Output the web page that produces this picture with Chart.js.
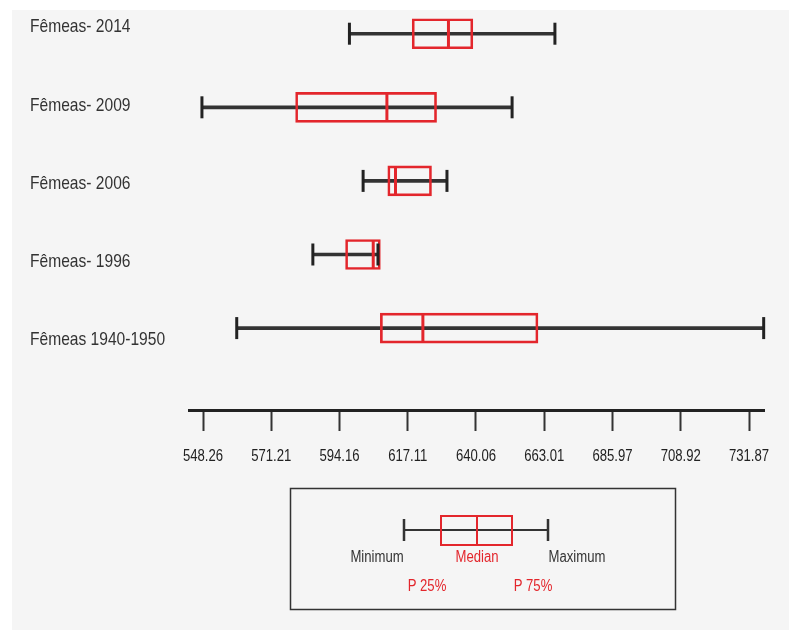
<!DOCTYPE html>
<html><head><meta charset="utf-8">
<script src="https://cdn.jsdelivr.net/npm/chart.js@4.4.1/dist/chart.umd.min.js"></script>
<style>html,body{margin:0;padding:0;background:#fff;}canvas{display:block;}</style>
</head><body>
<canvas id="c" width="789" height="630"></canvas>
<script>
// ---- data (top row first) ----
const categories = ['Fêmeas- 2014', 'Fêmeas- 2009', 'Fêmeas- 2006', 'Fêmeas- 1996', 'Fêmeas 1940-1950'];
const minimum = [597.5, 547.9, 602.1, 585.2, 559.6];
const p25     = [618.6, 579.4, 610.4, 596.2, 607.9];
const median  = [630.8, 610.1, 613.0, 605.5, 622.2];
const p75     = [639.0, 626.8, 625.1, 607.9, 660.9];
const maximum = [666.6, 652.2, 630.3, 607.1, 736.8];
const tickLabels = ['548.26', '571.21', '594.16', '617.11', '640.06', '663.01', '685.97', '708.92', '731.87'];
const legendTexts = { min: 'Minimum', med: 'Median', max: 'Maximum', q1: 'P 25%', q3: 'P 75%' };

const FONT = "'Liberation Sans Narrow','Liberation Sans',Arial,sans-serif";
const NARROW = 0.82; // Arial Narrow ~ Arial condensed horizontally
const RED = '#e3262c';
const DARK = '#333333';
const rows = categories.map((_, i) => i);

function narrowText(c, text, x, y, align, size, color) {
  c.save();
  c.font = size + 'px ' + FONT;
  c.fillStyle = color;
  c.textAlign = align;
  c.textBaseline = 'middle';
  c.translate(x, y);
  c.scale(NARROW, 1);
  c.fillText(text, 0, 0);
  c.restore();
}

const bgPlugin = {
  id: 'bg',
  beforeDraw(chart) {
    const c = chart.ctx;
    c.save();
    c.fillStyle = '#ffffff';
    c.fillRect(0, 0, chart.width, chart.height);
    c.fillStyle = '#f5f5f5';
    c.fillRect(12, 10, chart.width - 12, chart.height - 10);
    c.restore();
  }
};

const labelPlugin = {
  id: 'narrowLabels',
  afterDraw(chart) {
    const c = chart.ctx;
    const yl = chart.scales.yl, x = chart.scales.x;
    categories.forEach((lab, i) => narrowText(c, lab, yl.left, yl.getPixelForValue(i), 'left', 19, '#333'));
    tickLabels.forEach(t => narrowText(c, t, x.getPixelForValue(parseFloat(t)), 457, 'center', 16, '#222'));
  }
};

const legendPlugin = {
  id: 'boxLegend',
  afterDraw(chart) {
    const c = chart.ctx;
    c.save();
    c.strokeStyle = DARK; c.lineWidth = 1.5;
    c.strokeRect(290.5, 488.5, 385, 121);
    c.strokeStyle = DARK; c.lineWidth = 2;
    c.beginPath(); c.moveTo(404, 530); c.lineTo(548, 530); c.stroke();
    c.lineWidth = 2.5;
    c.beginPath(); c.moveTo(404, 519); c.lineTo(404, 541); c.moveTo(548, 519); c.lineTo(548, 541); c.stroke();
    c.strokeStyle = RED; c.lineWidth = 2;
    c.strokeRect(441, 516, 71, 29);
    c.beginPath(); c.moveTo(477, 516); c.lineTo(477, 545); c.stroke();
    c.restore();
    narrowText(c, legendTexts.min, 377, 558, 'center', 16, DARK);
    narrowText(c, legendTexts.max, 577, 558, 'center', 16, DARK);
    narrowText(c, legendTexts.med, 477, 558, 'center', 16, RED);
    narrowText(c, legendTexts.q1, 427, 587, 'center', 16, RED);
    narrowText(c, legendTexts.q3, 533, 587, 'center', 16, RED);
  }
};

new Chart(document.getElementById('c').getContext('2d'), {
  type: 'bar',
  data: {
    datasets: [
      { type: 'bar', indexAxis: 'y', grouped: false, order: 4,
        data: rows.map(i => ({ y: i, x: [minimum[i], maximum[i]] })),
        barThickness: 3, backgroundColor: DARK, borderWidth: 0 },
      { type: 'bar', indexAxis: 'y', grouped: false, order: 3,
        data: rows.map(i => ({ y: i, x: [p25[i], p75[i]] })),
        barThickness: 30, backgroundColor: 'rgba(0,0,0,0)', borderColor: RED, borderWidth: 2, borderSkipped: false },
      { type: 'scatter', order: 2, clip: false,
        data: rows.flatMap(i => [{ x: minimum[i], y: i }, { x: maximum[i], y: i }]),
        pointStyle: 'line', rotation: 90, pointRadius: 11, borderColor: '#222', borderWidth: 3 },
      { type: 'scatter', order: 1, clip: false,
        data: rows.map(i => ({ x: median[i], y: i })),
        pointStyle: 'line', rotation: 90, pointRadius: 14.5, borderColor: RED, borderWidth: 3 }
    ]
  },
  options: {
    responsive: false, animation: false, devicePixelRatio: 1, events: [],
    layout: { autoPadding: false, padding: { left: 30, right: 25, top: 0, bottom: 0 } },
    plugins: { legend: { display: false }, tooltip: { enabled: false } },
    scales: {
      x: {
        type: 'linear', position: 'bottom', min: 543.55, max: 736.91, offset: false,
        afterBuildTicks: s => { s.ticks = tickLabels.map(t => ({ value: parseFloat(t) })); },
        afterFit: s => { s.height = 220; },
        border: { display: true, color: '#222', width: 3 },
        grid: { display: true, offset: false, drawOnChartArea: false, drawTicks: true, tickLength: 21, tickWidth: 2, tickColor: '#333' },
        ticks: { display: false, autoSkip: false, maxRotation: 0 }
      },
      y: { type: 'linear', display: false, reverse: true, min: -0.458, max: 5.113, offset: false },
      yl: {
        type: 'linear', position: 'left', reverse: true, min: -0.3465, max: 4.897, offset: false,
        afterBuildTicks: s => { s.ticks = categories.map((_, i) => ({ value: i })); },
        afterFit: s => { s.width = 159; },
        border: { display: false }, grid: { display: false },
        ticks: { display: false, autoSkip: false }
      }
    }
  },
  plugins: [bgPlugin, labelPlugin, legendPlugin]
});
</script>
</body></html>
